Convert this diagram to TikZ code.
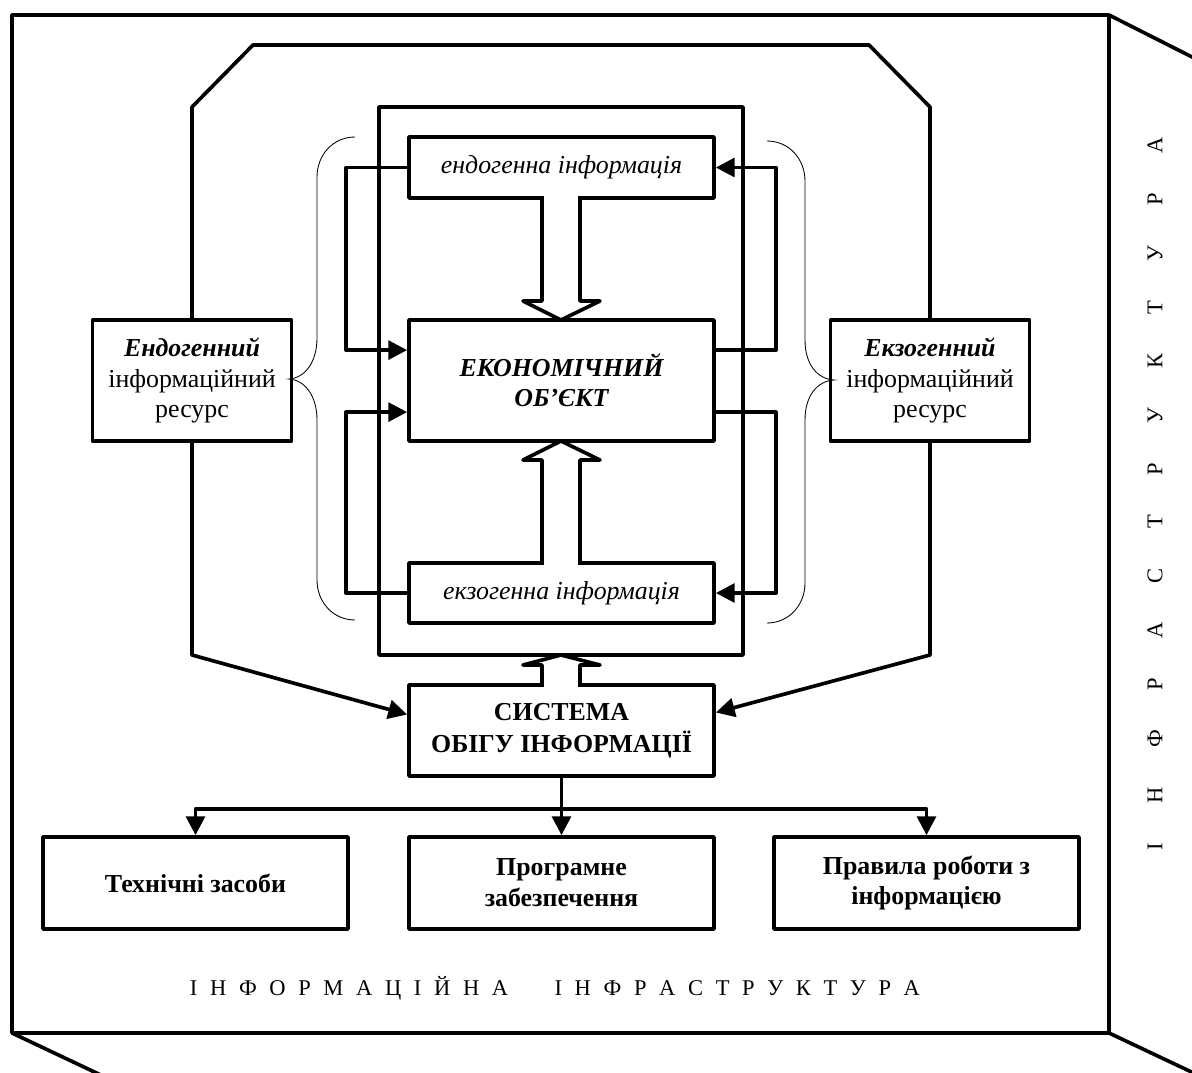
\documentclass[tikz,border=0pt]{standalone}
\usepackage{fontspec}
\setmainfont{Liberation Serif}
\usetikzlibrary{arrows.meta}

\tikzset{
  heavy/.style={line width=2.6pt, line join=round},
  box/.style={draw, heavy, align=center, inner sep=0pt, font=\fontsize{18.4}{22}\selectfont},
  widebox/.style={box, minimum width=7.625cm},
  resbox/.style={box, minimum width=4.975cm, minimum height=3.025cm},
  arr/.style={heavy, -{Triangle[length=0.47cm,width=0.47cm]}},
  brace/.style={line width=0.6pt},
  spaced/.style={font=\fontsize{16}{18}\selectfont}
}

\begin{document}
\begin{tikzpicture}[x=0.025cm, y=-0.025cm]
  \useasboundingbox (0,0) rectangle (1192,1073);

  % Outer frame and its depth edges
  \draw[heavy] (12,15) rectangle (1109,1033);
  \draw[heavy] (1109,15) -- (1200,61);
  \draw[heavy] (1109,1033) -- (1200,1076);
  \draw[heavy] (12,1033) -- (105,1077);

  % Inner frame round the object
  \draw[heavy] (379,107) rectangle (743,655);

  % Boxes
  \node[resbox] (endo) at (192,380.5) {{\bfseries\itshape Ендогенний}\\інформаційний\\ресурс};
  \node[resbox] (exo) at (930,380.5) {{\bfseries\itshape Екзогенний}\\інформаційний\\ресурс};
  \node[widebox, minimum height=1.525cm] (eninfo) at (561.5,167.5) {\itshape ендогенна інформація};
  \node[widebox, minimum height=3.025cm, font=\fontsize{18.4}{21.5}\selectfont\bfseries\itshape] (econ) at (561.5,380.5) {ЕКОНОМІЧНИЙ\\ОБ’ЄКТ};
  \node[widebox, minimum height=1.5cm] (exinfo) at (561.5,593) {\itshape екзогенна інформація};
  \node[widebox, minimum height=2.275cm, font=\fontsize{18.4}{22.7}\selectfont\bfseries] (sys) at (561.5,730.5) {СИСТЕМА\\ОБІГУ ІНФОРМАЦІЇ};
  \node[widebox, minimum height=2.3cm, font=\fontsize{18.4}{22}\selectfont\bfseries] (tech) at (195.5,883) {Технічні засоби};
  \node[widebox, minimum height=2.3cm, font=\fontsize{18.4}{22}\selectfont\bfseries] (prog) at (561.5,883) {Програмне\\забезпечення};
  \node[widebox, minimum height=2.3cm, font=\fontsize{18.4}{22}\selectfont\bfseries] (rules) at (926.5,883) {Правила роботи з\\інформацією};

  % Frame of the resources
  \draw[heavy] (endo.north) -- (192,107) -- (253,45) -- (869,45) -- (930,107) -- (exo.north);
  \draw[arr] (endo.south) -- (192,655) -- ([yshift=0.4cm]sys.west);
  \draw[arr] (exo.south) -- (930,655) -- ([yshift=0.45cm]sys.east);

  % Feedback loops
  \draw[arr] (eninfo.west) -- ++(-61,0) |- ([yshift=0.76cm]econ.west);
  \draw[arr] (exinfo.west) -- ++(-61,0) |- ([yshift=-0.79cm]econ.west);
  \draw[arr] ([yshift=0.76cm]econ.east) -- ++(60,0) |- (eninfo.east);
  \draw[arr] ([yshift=-0.79cm]econ.east) -- ++(60,0) |- (exinfo.east);

  % Hollow arrows
  \fill[white] (544,195) rectangle (578,201);
  \draw[heavy] (542,198) -- (542,301) -- (523,301) -- (561,320) -- (600,301) -- (580,301) -- (580,198);
  \fill[white] (544,560) rectangle (578,566);
  \draw[heavy] (542,563) -- (542,460) -- (523,460) -- (561,441) -- (600,460) -- (580,460) -- (580,563);
  \fill[white] (544,682) rectangle (578,688);
  \draw[heavy] (542,685) -- (542,665) -- (523,665) -- (561,655) -- (600,665) -- (580,665) -- (580,685);

  % Branches to the means
  \draw[arr] (sys.south) -- (prog.north);
  \draw[arr] (sys.south) ++(0,31) -| (tech.north);
  \draw[arr] (sys.south) ++(0,31) -| (rules.north);

  % Braces
  \draw[brace] (355,137) .. controls (333,137) and (317,155) .. (317,177) -- (317,338)
    .. controls (317,362) and (305,378) .. (289,379) .. controls (305,380) and (317,396) .. (317,420)
    -- (317,580) .. controls (317,602) and (333,620) .. (355,620);
  \draw[brace] (767,141) .. controls (789,141) and (805,159) .. (805,181) -- (805,340)
    .. controls (805,364) and (817,379) .. (834,380) .. controls (817,381) and (805,396) .. (805,420)
    -- (805,583) .. controls (805,605) and (789,623) .. (767,623);

  % Infrastructure labels
  \node[spaced] (bottom) at (555,988) {\spaceskip=9pt І Н Ф О Р М А Ц І Й Н А\hspace{33pt}І Н Ф Р А С Т Р У К Т У Р А};
  \node[spaced, rotate=90] (side) at (1155,494) {\spaceskip=28pt І Н Ф Р А С Т Р У К Т У Р А};
\end{tikzpicture}
\end{document}
